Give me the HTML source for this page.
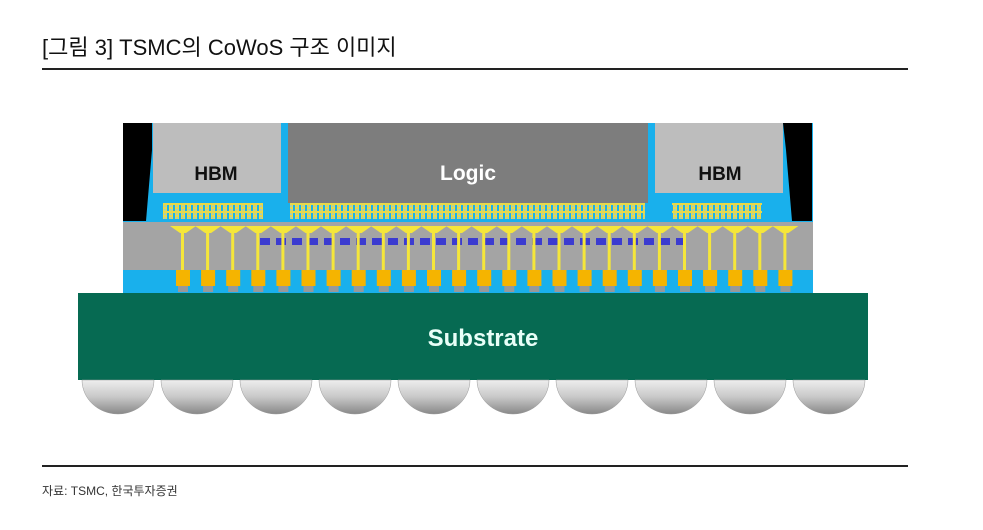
<!DOCTYPE html>
<html><head><meta charset="utf-8"><style>
body{margin:0;width:983px;height:530px;background:#fff;overflow:hidden;font-family:"Liberation Sans","Noto Sans CJK KR",sans-serif;position:relative}
.t{position:absolute;left:42px;top:30px;font-size:22px;color:#111}
.l{position:absolute;left:42px;width:866px;height:2px;background:#222}
.s{position:absolute;left:42px;top:482px;font-size:12px;color:#333}
</style></head><body>
<div class="t">[그림 3] TSMC의 CoWoS 구조 이미지</div>
<div class="l" style="top:68px"></div>
<svg style="position:absolute;left:0;top:0" width="983" height="530">
<defs>
<linearGradient id="b" x1="0" y1="0" x2="0" y2="1"><stop offset="0" stop-color="#eee"/><stop offset="0.5" stop-color="#c8c8c8"/><stop offset="1" stop-color="#888"/></linearGradient>
<pattern id="mb" width="6" height="8" patternUnits="userSpaceOnUse"><rect width="6" height="8" fill="#19b0ec"/><rect x="1" y="0" width="4" height="8" fill="#e8d84a"/><rect x="0" y="3" width="6" height="2" fill="#e8d84a"/><rect x="2" y="1" width="2" height="1.5" fill="#9cc"/><rect x="2" y="5.5" width="2" height="1.5" fill="#9cc"/></pattern>
</defs>
<rect x="123" y="123" width="690" height="170" fill="#19b0ec"/>
<path d="M123 123H152V150L146 221H123Z" fill="#000"/>
<path d="M783 123H812V221H792L786 150Z" fill="#000"/>
<rect x="153" y="123" width="128" height="70" fill="#bdbdbd"/>
<rect x="288" y="123" width="360" height="80" fill="#7d7d7d"/>
<rect x="655" y="123" width="128" height="70" fill="#bdbdbd"/>
<text x="216" y="180" font-size="19" font-weight="bold" text-anchor="middle" fill="#111">HBM</text>
<text x="468" y="180" font-size="21" font-weight="bold" text-anchor="middle" fill="#fff">Logic</text>
<text x="720" y="180" font-size="19" font-weight="bold" text-anchor="middle" fill="#111">HBM</text>
<rect x="163" y="203" width="100" height="16" fill="url(#mb)"/>
<rect x="290" y="203" width="355" height="16" fill="url(#mb)"/>
<rect x="672" y="203" width="90" height="16" fill="url(#mb)"/>
<rect x="123" y="222" width="690" height="48" fill="#a4a4a4"/>
<g id="blue" fill="#3b3bd0"></g>
<g id="bumps"></g>
<rect x="78" y="293" width="790" height="87" fill="#066a52"/>
<text x="483" y="346" font-size="24" font-weight="bold" text-anchor="middle" fill="#e8fff8">Substrate</text>
<g fill="url(#b)" stroke="#999" stroke-width="0.5">
<path d="M82 380h72a36 34 0 0 1-72 0Z"/>
<path d="M161 380h72a36 34 0 0 1-72 0Z"/>
<path d="M240 380h72a36 34 0 0 1-72 0Z"/>
<path d="M319 380h72a36 34 0 0 1-72 0Z"/>
<path d="M398 380h72a36 34 0 0 1-72 0Z"/>
<path d="M477 380h72a36 34 0 0 1-72 0Z"/>
<path d="M556 380h72a36 34 0 0 1-72 0Z"/>
<path d="M635 380h72a36 34 0 0 1-72 0Z"/>
<path d="M714 380h72a36 34 0 0 1-72 0Z"/>
<path d="M793 380h72a36 34 0 0 1-72 0Z"/>
</g>
</svg>
<div class="l" style="top:465px;height:1.5px"></div>
<div class="s">자료: TSMC, 한국투자증권</div>
<script>
var g=document.getElementById('bumps'),s='';
var xs=[];for(var x=176;x<780;x+=25.1)xs.push(x);
xs.forEach(function(x){
s+='<path d="M'+(x-6)+' 226H'+(x+20)+'L'+(x+10)+' 233H'+(x+4)+'Z" fill="#f5e63a"/>';
s+='<rect x="'+(x+5)+'" y="228" width="3" height="44" fill="#f5e63a"/>';
s+='<rect x="'+x+'" y="270" width="14" height="16" fill="#f5b400"/>';
s+='<rect x="'+(x+2)+'" y="286" width="10" height="6" fill="#999"/>';
});
g.innerHTML=s;
var b='';for(var x=260;x<678;x+=16)b+='<rect x="'+x+'" y="238" width="10" height="7"/>';
document.getElementById('blue').innerHTML=b;
</script>
</body></html>
